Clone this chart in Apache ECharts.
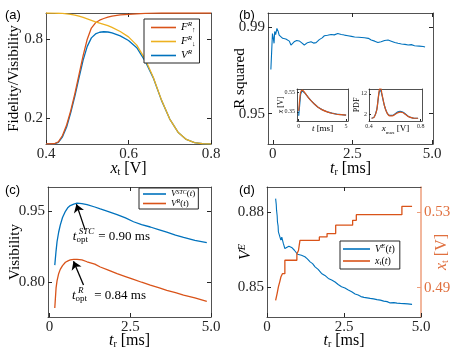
<!DOCTYPE html>
<html>
<head>
<meta charset="utf-8">
<script src="https://cdn.jsdelivr.net/npm/echarts@6/dist/echarts.min.js"></script>
<style>html,body{margin:0;padding:0;background:#fff}#fig{width:468px;height:351px}</style>
</head>
<body>
<div id="fig"></div>
<script>
// (a) readout fidelities vs threshold
var xtA   = [0.40, 0.42, 0.43, 0.44, 0.45, 0.46, 0.47, 0.48, 0.49, 0.50, 0.51, 0.52, 0.53, 0.54, 0.55, 0.56, 0.58, 0.60, 0.62, 0.64, 0.66, 0.68, 0.70, 0.72, 0.74, 0.76, 0.78, 0.80];
var fUp   = [0.0, 0.002, 0.016, 0.065, 0.145, 0.255, 0.385, 0.53, 0.675, 0.80, 0.885, 0.925, 0.945, 0.958, 0.968, 0.976, 0.985, 0.99, 0.994, 0.997, 0.999, 1.0, 1.0, 1.0, 1.0, 1.0, 1.0, 1.0];
var fDown = [1.0, 0.999, 0.998, 0.997, 0.994, 0.99, 0.984, 0.976, 0.966, 0.955, 0.944, 0.933, 0.923, 0.913, 0.903, 0.89, 0.859, 0.818, 0.755, 0.65, 0.51, 0.335, 0.19, 0.09, 0.035, 0.01, 0.002, 0.0];
var vRa   = [0.0, 0.001, 0.012, 0.055, 0.13, 0.24, 0.365, 0.505, 0.64, 0.745, 0.81, 0.84, 0.853, 0.857, 0.855, 0.848, 0.825, 0.79, 0.735, 0.635, 0.505, 0.333, 0.19, 0.09, 0.035, 0.01, 0.002, 0.0];

// (b) R squared vs t_r
var tB  = [-0.06, -0.01, 0.02, 0.04, 0.06, 0.09, 0.13, 0.17, 0.2, 0.25, 0.31, 0.36, 0.41, 0.47, 0.52, 0.57, 0.62, 0.67, 0.75, 0.83, 0.9, 0.99, 1.05, 1.09, 1.15, 1.2, 1.28, 1.36, 1.41, 1.46, 1.55, 1.62, 1.72, 1.83, 1.93, 2.04, 2.15, 2.25, 2.36, 2.47, 2.57, 2.7, 2.88, 3.0, 3.09, 3.2, 3.3, 3.4, 3.51, 3.62, 3.72, 3.83, 3.93, 4.04, 4.15, 4.25, 4.35, 4.45, 4.51, 4.6, 4.72, 4.78];
var r2B = [0.9704, 0.987, 0.9845, 0.9825, 0.988, 0.9865, 0.9894, 0.988, 0.9863, 0.986, 0.9848, 0.9855, 0.9845, 0.984, 0.9835, 0.9817, 0.9825, 0.9832, 0.9838, 0.9836, 0.9828, 0.9817, 0.982, 0.9828, 0.9832, 0.9832, 0.9826, 0.9828, 0.9835, 0.9842, 0.985, 0.986, 0.9862, 0.9866, 0.9864, 0.987, 0.9866, 0.9863, 0.986, 0.9857, 0.9854, 0.9853, 0.9851, 0.9848, 0.984, 0.9835, 0.9829, 0.9832, 0.9838, 0.984, 0.9835, 0.9829, 0.9825, 0.9822, 0.982, 0.9817, 0.9819, 0.9814, 0.9814, 0.9812, 0.981, 0.9808];
// (b) insets
var tIn    = [0.0, 0.1, 0.2, 0.35, 0.5, 0.7, 1.0, 1.3, 1.6, 2.0, 2.5, 3.0, 3.5, 4.0, 4.5, 5.0];
var xInO   = [0.36, 0.47, 0.55, 0.575, 0.565, 0.54, 0.50, 0.465, 0.435, 0.40, 0.37, 0.35, 0.335, 0.325, 0.32, 0.315];
var xInB   = [0.31, 0.42, 0.53, 0.57, 0.562, 0.538, 0.50, 0.466, 0.436, 0.40, 0.37, 0.35, 0.336, 0.326, 0.32, 0.316];
var xMax   = [0.42, 0.44, 0.46, 0.47, 0.48, 0.49, 0.50, 0.52, 0.54, 0.56, 0.58, 0.60, 0.62, 0.64, 0.66, 0.68, 0.70, 0.72, 0.74, 0.76, 0.78];
var pdfO   = [0.0, 0.5, 4.0, 9.0, 14.0, 15.0, 12.0, 6.0, 2.5, 1.2, 1.2, 1.8, 2.6, 3.0, 2.8, 2.0, 1.0, 0.4, 0.1, 0.0, 0.0];
var pdfB   = [0.0, 0.6, 4.2, 9.0, 13.0, 13.6, 11.5, 6.0, 2.6, 1.4, 1.4, 2.1, 3.0, 3.4, 3.1, 2.2, 1.1, 0.4, 0.1, 0.0, 0.0];

// (c) visibility vs t_r
var tC   = [0.16, 0.2, 0.23, 0.28, 0.33, 0.4, 0.49, 0.57, 0.64, 0.75, 0.85, 1.0, 1.16, 1.4, 1.57, 1.8, 2.09, 2.35, 2.6, 2.85, 3.12, 3.4, 3.63, 3.9, 4.15, 4.5, 4.87];
var vStc = [0.836, 0.866, 0.885, 0.905, 0.92, 0.936, 0.949, 0.957, 0.961, 0.964, 0.966, 0.965, 0.963, 0.958, 0.954, 0.949, 0.942, 0.935, 0.927, 0.921, 0.916, 0.91, 0.905, 0.899, 0.894, 0.888, 0.883];
var vRc  = [0.746, 0.788, 0.803, 0.818, 0.827, 0.835, 0.842, 0.845, 0.847, 0.848, 0.848, 0.847, 0.843, 0.838, 0.832, 0.826, 0.818, 0.812, 0.806, 0.8, 0.794, 0.788, 0.783, 0.778, 0.773, 0.767, 0.76];

// (d) V^E and threshold
var tD = [0.28, 0.30, 0.31, 0.33, 0.34, 0.36, 0.37, 0.40, 0.42, 0.45, 0.48, 0.50, 0.53, 0.56, 0.58, 0.61, 0.64, 0.71, 0.80, 0.89, 0.99, 1.12, 1.23, 1.31, 1.40, 1.48, 1.56, 1.66, 1.77, 1.88, 1.99, 2.10, 2.21, 2.31, 2.42, 2.53, 2.64, 2.75, 2.86, 2.96, 3.05, 3.15, 3.25, 3.35, 3.46, 3.57, 3.68, 3.79, 3.90, 4.00, 4.12, 4.22, 4.33, 4.45, 4.57, 4.71];
var vE = [0.8853, 0.8830, 0.8807, 0.8785, 0.8760, 0.8745, 0.8721, 0.8716, 0.8714, 0.8688, 0.8700, 0.8694, 0.8675, 0.8668, 0.8655, 0.8662, 0.8661, 0.8664, 0.8659, 0.8648, 0.8632, 0.8628, 0.8622, 0.8614, 0.8602, 0.8595, 0.8582, 0.8572, 0.8556, 0.8548, 0.8536, 0.8530, 0.8522, 0.8512, 0.8503, 0.8498, 0.8490, 0.8483, 0.8474, 0.8470, 0.8464, 0.8461, 0.8459, 0.8457, 0.8455, 0.8452, 0.8450, 0.8446, 0.8444, 0.8439, 0.8440, 0.8438, 0.8437, 0.8436, 0.8435, 0.8433];
var tStep  = [0.28, 0.33, 0.37, 0.42, 0.45, 0.50, 0.58, 0.97, 1.02, 1.07, 1.70, 1.95, 2.23, 2.78, 2.90, 4.38, 4.71];
var xtStep = [0.4833, 0.4870, 0.4904, 0.4935, 0.4956, 0.4974, 0.5045, 0.5080, 0.5095, 0.5150, 0.5168, 0.5186, 0.5230, 0.5256, 0.5286, 0.5330, 0.5330];

var BLUE = '#0072BD', ORANGE = '#D95319', YELLOW = '#EDB120';
var AX = '#262626';
var SERIF = 'Liberation Serif';

function zip(a, b) {
    var r = [];
    for (var i = 0; i < a.length; i++) r.push([a[i], b[i]]);
    return r;
}

// rich styles for italic symbols with super/subscripts
function richOf(size, small, shift) {
    small = small || Math.round(size * 0.6);
    shift = shift === undefined ? 7 : shift;
    return {
        i: {fontFamily: SERIF, fontStyle: 'italic', fontSize: size},
        n: {fontFamily: SERIF, fontSize: size},
        sup: {fontFamily: SERIF, fontStyle: 'italic', fontSize: small, padding: [0, 0, shift, 0]},
        sub: {fontFamily: SERIF, fontSize: small, padding: [shift, 0, 0, 0]},
        subw: {fontFamily: SERIF, fontSize: small, padding: [shift, 7, 0, 0]},
        subr: {fontFamily: SERIF, fontSize: small, padding: [shift, 4, 0, 0]},
        sm: {fontFamily: SERIF, fontStyle: 'italic', fontSize: small}
    };
}

function fmt1(v) { return v === 0 ? '0' : v.toFixed(1); }
function fmt2(v) { return v.toFixed(2); }

var xAxes = [], yAxes = [];
function addAxis(list, o) {
    var col = o.color || AX;
    var ax = {
        type: 'value', gridIndex: o.grid, min: o.min, max: o.max, position: o.pos,
        axisLine: {show: true, onZero: false, lineStyle: {color: o.lineColor || AX, width: o.lineWidth || 0.8}},
        axisTick: {show: true, inside: true, length: o.tick || 4, customValues: o.ticks, lineStyle: {color: o.lineColor || AX}},
        axisLabel: {show: !!o.fmt, customValues: o.ticks, formatter: o.fmt, color: col, fontFamily: SERIF, fontSize: o.fs || 15, margin: o.margin || 3},
        splitLine: {show: false},
        axisPointer: {show: false}
    };
    if (o.name) {
        ax.name = o.name;
        ax.nameLocation = 'middle';
        ax.nameGap = o.gap;
        ax.nameMoveOverlap = false;
        if (o.rot !== undefined) ax.nameRotate = o.rot;
        ax.nameTextStyle = {color: o.nameColor || '#000', fontFamily: SERIF, fontSize: o.nfs || 16, rich: richOf(o.nfs || 16)};
    }
    list.push(ax);
    return list.length - 1;
}

// grid 0: (a)
var xa = addAxis(xAxes, {grid: 0, min: 0.4, max: 0.8, pos: 'bottom', ticks: [0.4, 0.6, 0.8], fmt: fmt1, name: '{i|x}{sub|t} [V]', gap: 16});
addAxis(xAxes, {grid: 0, min: 0.4, max: 0.8, pos: 'top', ticks: [0.6]});
var ya = addAxis(yAxes, {grid: 0, min: 0, max: 1.0, pos: 'left', ticks: [0.2, 0.8], fmt: fmt1, name: 'Fidelity/Visibility', gap: 24, nfs: 15, rot: 90});
addAxis(yAxes, {grid: 0, min: 0, max: 1.0, pos: 'right', ticks: [0.2, 0.8]});
// grid 1: (b)
var xb = addAxis(xAxes, {grid: 1, min: -0.15, max: 5.03, pos: 'bottom', ticks: [0, 2.5, 5], fmt: fmt1, name: '{i|t}{sub|r} [ms]', gap: 16});
addAxis(xAxes, {grid: 1, min: -0.15, max: 5.03, pos: 'top', ticks: [2.5, 5]});
var yb = addAxis(yAxes, {grid: 1, min: 0.936, max: 0.9965, pos: 'left', ticks: [0.95, 0.99], fmt: fmt2, name: 'R squared', gap: 20, nfs: 15, rot: 90});
addAxis(yAxes, {grid: 1, min: 0.936, max: 0.9965, pos: 'right', ticks: [0.95, 0.99]});
// grid 2: inset left
var xi1 = addAxis(xAxes, {grid: 2, min: -0.18, max: 5.2, pos: 'bottom', ticks: [0, 5], fmt: function (v) { return String(v); }, fs: 6, margin: 2, tick: 2, name: '{i|t} [ms]', gap: 3, nfs: 9});
addAxis(xAxes, {grid: 2, min: -0.18, max: 5.2, pos: 'top', ticks: []});
var yi1 = addAxis(yAxes, {grid: 2, min: 0.255, max: 0.586, pos: 'left', ticks: [0.35, 0.55], fmt: fmt2, fs: 6, margin: 2, tick: 2, name: '{i|x} [V]', gap: 12, nfs: 8, rot: 90});
addAxis(yAxes, {grid: 2, min: 0.255, max: 0.586, pos: 'right', ticks: []});
// grid 3: inset right
var xi2 = addAxis(xAxes, {grid: 3, min: 0.4, max: 0.81, pos: 'bottom', ticks: [0.4, 0.8], fmt: fmt1, fs: 6, margin: 2, tick: 2, name: '{i|x}{sub|max} [V]', gap: 2, nfs: 9});
addAxis(xAxes, {grid: 3, min: 0.4, max: 0.81, pos: 'top', ticks: []});
var yi2 = addAxis(yAxes, {grid: 3, min: -1.35, max: 14.35, pos: 'left', ticks: [2, 12], fmt: function (v) { return String(v); }, fs: 6, margin: 2, tick: 2, name: 'PDF', gap: 8, nfs: 8, rot: 90});
addAxis(yAxes, {grid: 3, min: -1.35, max: 14.35, pos: 'right', ticks: []});
// grid 4: (c)
var xc = addAxis(xAxes, {grid: 4, min: -0.05, max: 5.0, pos: 'bottom', ticks: [0, 2.5, 5], fmt: fmt1, name: '{i|t}{sub|r} [ms]', gap: 15});
addAxis(xAxes, {grid: 4, min: -0.05, max: 5.0, pos: 'top', ticks: [2.5]});
var yc = addAxis(yAxes, {grid: 4, min: 0.727, max: 1.0, pos: 'left', ticks: [0.80, 0.95], fmt: fmt2, name: 'Visibility', gap: 25, nfs: 15, rot: 90});
addAxis(yAxes, {grid: 4, min: 0.727, max: 1.0, pos: 'right', ticks: [0.80, 0.95]});
// grid 5: (d)
var xd = addAxis(xAxes, {grid: 5, min: 0, max: 5, pos: 'bottom', ticks: [0, 2.5, 5], fmt: fmt1, name: '{i|t}{sub|r} [ms]', gap: 15});
addAxis(xAxes, {grid: 5, min: 0, max: 5, pos: 'top', ticks: [2.5]});
var yd = addAxis(yAxes, {grid: 5, min: 0.8383, max: 0.8899, pos: 'left', ticks: [0.85, 0.88], fmt: fmt2, name: '{i|V}{sup|E}', gap: 13, nfs: 16, rot: 90});
var yd2 = addAxis(yAxes, {grid: 5, min: 0.4745, max: 0.5432, pos: 'right', ticks: [0.49, 0.53], fmt: fmt2, color: '#E0703F', lineColor: '#EE9F7C', lineWidth: 1.5, name: '{i|x}{sub|t} [V]', gap: 12, nameColor: '#E0703F', rot: 90});

function line(name, xi, yi, data, color, extra) {
    var s = {
        name: name, type: 'line', xAxisIndex: xi, yAxisIndex: yi, data: data,
        showSymbol: false, symbol: 'none', smooth: false,
        lineStyle: {color: color, width: 1.3}, itemStyle: {color: color}
    };
    return Object.assign(s, extra || {});
}

var labels = {
    'Fup': '{i|F}{sup|R}{sub|↑}',
    'Fdown': '{i|F}{sup|R}{sub|↓}',
    'VR': '{i|V}{sup|R}',
    'Vstc': '{i|V}{sup|STC}{n|(}{i|t}{n|)}',
    'Vrc': '{i|V}{sup|R}{n|(}{i|t}{n|)}',
    'VE': '{i|V}{sup|E}{n|(}{i|t}{n|)}',
    'xt': '{i|x}{sub|t}{n|(}{i|t}{n|)}'
};
function legendOf(names, left, top, fs, small, shift, iw, gap, pad) {
    return {
        data: names, left: left, top: top, orient: 'vertical',
        icon: 'rect', itemWidth: iw, itemHeight: 1.6, itemGap: gap, padding: pad,
        backgroundColor: '#fff', borderColor: AX, borderWidth: 1, borderRadius: 0,
        selectedMode: false,
        formatter: function (n) { return labels[n]; },
        textStyle: {fontFamily: SERIF, fontSize: fs, color: '#000', rich: richOf(fs, small, shift)}
    };
}

var option = {
    animation: false,
    grid: [
        {left: 46, top: 13, width: 165, height: 131},
        {left: 268, top: 13, width: 165, height: 131},
        {left: 297, top: 89, width: 51, height: 32},
        {left: 369, top: 89, width: 53, height: 32},
        {left: 48, top: 187, width: 163, height: 130},
        {left: 267, top: 187, width: 154, height: 130}
    ],
    xAxis: xAxes,
    yAxis: yAxes,
    legend: [
        legendOf(['Fup', 'Fdown', 'VR'], 144, 19, 11, 7, 6, 25, 1, [2, 4, 2, 7]),
        legendOf(['Vstc', 'Vrc'], 139, 188, 9, 6, 4, 23, 0, [1, 3, 1, 4]),
        legendOf(['VE', 'xt'], 340, 241, 10, 7, 5, 27, 2, [2, 5, 2, 3])
    ],
    graphic: [
        {type: 'text', left: 5, top: 9, style: {text: '(a)', fontFamily: 'Liberation Sans', fontSize: 13, fill: '#000'}},
        {type: 'text', left: 239, top: 9, style: {text: '(b)', fontFamily: 'Liberation Sans', fontSize: 13, fill: '#000'}},
        {type: 'text', left: 5, top: 184, style: {text: '(c)', fontFamily: 'Liberation Sans', fontSize: 13, fill: '#000'}},
        {type: 'text', left: 239, top: 184, style: {text: '(d)', fontFamily: 'Liberation Sans', fontSize: 13, fill: '#000'}}
    ],
    series: [
        line('VR', xa, ya, zip(xtA, vRa), BLUE),
        line('Fup', xa, ya, zip(xtA, fUp), ORANGE),
        line('Fdown', xa, ya, zip(xtA, fDown), YELLOW),

        line('R2', xb, yb, zip(tB, r2B), BLUE, {lineStyle: {color: BLUE, width: 1.1}}),
        line('inB', xi1, yi1, zip(tIn, xInB), BLUE, {lineStyle: {color: BLUE, width: 1.2}}),
        line('inO', xi1, yi1, zip(tIn, xInO), ORANGE, {lineStyle: {color: ORANGE, width: 1.2}, smooth: 0.3}),
        line('pdfB', xi2, yi2, zip(xMax, pdfB), BLUE, {lineStyle: {color: BLUE, width: 1.2}, smooth: 0.3}),
        line('pdfO', xi2, yi2, zip(xMax, pdfO), ORANGE, {lineStyle: {color: ORANGE, width: 1.2}, smooth: 0.3}),

        line('Vstc', xc, yc, zip(tC, vStc), BLUE, {
            markLine: {
                silent: true, symbol: ['none', 'arrow'], symbolSize: 8,
                lineStyle: {color: '#000', width: 1.3, type: 'solid'},
                label: {show: false},
                data: [
                    [{coord: [1.1, 0.91]}, {coord: [0.83, 0.964]}],
                    [{coord: [1.05, 0.794]}, {coord: [0.74, 0.844]}]
                ]
            },
            markPoint: {
                silent: true, symbol: 'circle', symbolSize: 0,
                label: {show: true, position: 'right', distance: 0, color: '#000', fontFamily: SERIF, fontSize: 13, rich: richOf(13, 9, 7)},
                data: [
                    {coord: [0.72, 0.896], label: {formatter: '{i|t}{subw|opt}{n| = 0.90 ms}'}},
                    {coord: [0.72, 0.896], label: {formatter: '{sm|STC}', offset: [6, -5]}},
                    {coord: [0.69, 0.7725], label: {formatter: '{i|t}{subr|opt}{n| = 0.84 ms}'}},
                    {coord: [0.69, 0.7725], label: {formatter: '{sm|R}', offset: [6, -5]}}
                ]
            }
        }),
        line('Vrc', xc, yc, zip(tC, vRc), ORANGE),

        line('VE', xd, yd, zip(tD, vE), BLUE, {lineStyle: {color: BLUE, width: 1.1}}),
        line('xt', xd, yd2, zip(tStep, xtStep), ORANGE, {step: 'end'})
    ]
};

var chart = echarts.init(document.getElementById('fig'));
chart.setOption(option);
</script>
</body>
</html>
